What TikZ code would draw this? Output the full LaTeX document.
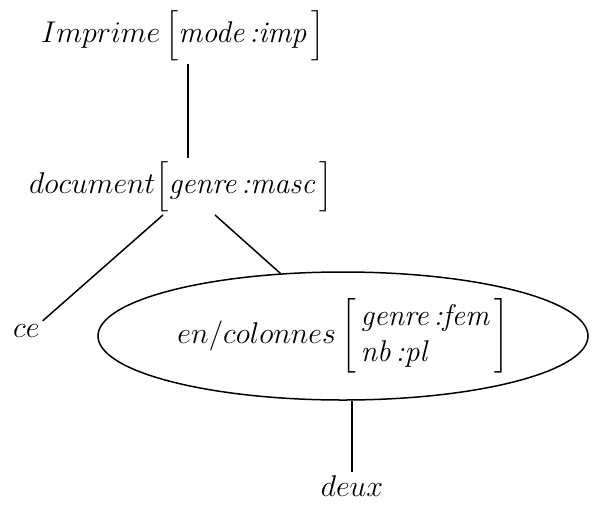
\RequirePackage{fix-cm}
\documentclass[tikz,border=0pt]{standalone}
\usepackage{amsmath}
\usepackage{graphicx}
\usetikzlibrary{shapes.geometric, positioning, calc}

\newcommand{\featl}{\mathopen{\scalebox{1}[0.84]{$\Big[$}}}
\newcommand{\featr}{\mathclose{\scalebox{1}[0.84]{$\Big]$}}}

\begin{document}
\begin{tikzpicture}[
    x=1pt, y=-1pt,
    word/.style={
        inner sep=3pt,
        anchor=base west,
        font=\fontsize{30}{36}\selectfont
    },
    unit/.style={
        ellipse,
        draw=black,
        line width=1.5pt,
        minimum width=490pt,
        minimum height=128pt,
        inner sep=0pt,
        font=\fontsize{30}{36}\selectfont
    },
    branch/.style={draw=black, line width=1.5pt}
]
    \useasboundingbox (0,0) rectangle (594,504);

    % tree nodes
    \node [word] (imprime) at (38,42) {$Imprime\,\featl\textit{mode\,:imp}\,\featr$};
    \node [word] (document) at (26,193) {$document\featl\textit{genre\,:masc}\,\featr$};
    \node [word] (ce) at (10,337) {$ce$};
    \node [unit] (colonnes) at (343,336) {$en/colonnes\left[\begin{array}{@{\,}l@{\,}}\textit{genre\,:fem}\\ \textit{nb\,:pl}\end{array}\right]$};
    \node [word, anchor=base] (deux) at (352,496) {$deux$};

    % branches
    \coordinate (imprimefoot) at ($(imprime.south west)+(150,0)$);
    \path [branch] (imprimefoot) -- (imprimefoot |- document.north);
    \path [branch] ($(document.south west)+(137,0)$) -- (ce.north east);
    \path [branch] ($(document.south west)+(189,0)$) -- (colonnes.135);
    \path [branch] (colonnes.south -| deux.north) -- (deux.north);
\end{tikzpicture}
\end{document}
